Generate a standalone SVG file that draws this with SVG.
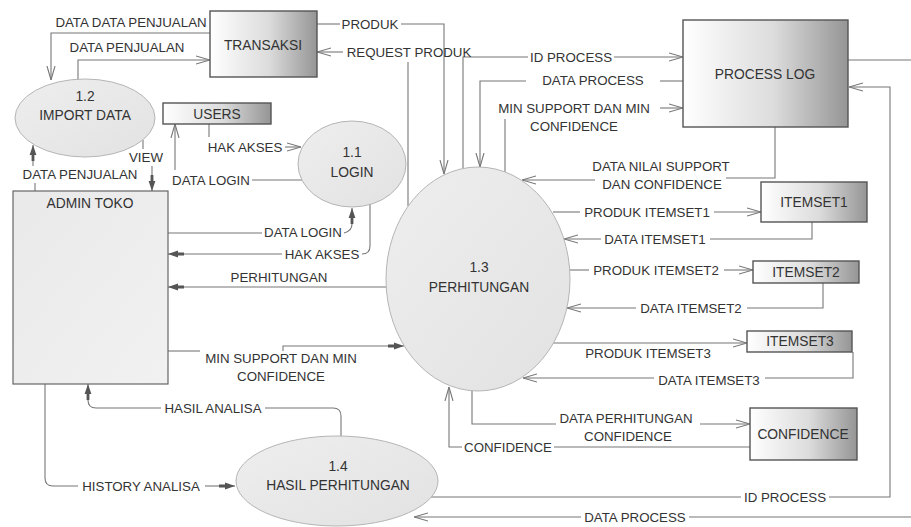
<svg xmlns="http://www.w3.org/2000/svg" width="911" height="527" viewBox="0 0 911 527">
  <defs>
    <linearGradient id="store" x1="0" y1="0" x2="1" y2="0">
      <stop offset="0" stop-color="#ffffff"/>
      <stop offset="0.55" stop-color="#dcdcdc"/>
      <stop offset="1" stop-color="#959595"/>
    </linearGradient>
    <linearGradient id="proc" x1="0" y1="0" x2="1" y2="1">
      <stop offset="0" stop-color="#eeeeee"/>
      <stop offset="1" stop-color="#e2e2e2"/>
    </linearGradient>
    <linearGradient id="ext" x1="0" y1="0" x2="1" y2="1">
      <stop offset="0" stop-color="#e9e9e9"/>
      <stop offset="1" stop-color="#f1f1f1"/>
    </linearGradient>
    <marker id="open" viewBox="0 0 14 10" refX="14" refY="5" markerWidth="14" markerHeight="10" markerUnits="userSpaceOnUse" orient="auto">
      <path d="M0,1 L14,5 L0,9" fill="none" stroke="#777" stroke-width="1.1"/>
    </marker>
    <marker id="solid" viewBox="0 0 16 8" refX="16" refY="4" markerWidth="16" markerHeight="8" markerUnits="userSpaceOnUse" orient="auto">
      <path d="M0,2.6 H6 V0.6 L16,4 L6,7.4 V5.4 H0 Z" fill="#555"/>
    </marker>
  </defs>
  <style>
    text { font-family: "Liberation Sans", Arial, sans-serif; font-size: 13.3px; fill: #333; text-anchor: middle; dominant-baseline: central; }
    .box text { font-size: 13.8px; }
    .store rect { fill: url(#store); stroke: #555; stroke-width: 1.4; }
    .process ellipse { fill: url(#proc); stroke: #b5b5b5; stroke-width: 1; }
    .entity rect { fill: url(#ext); stroke: #666; stroke-width: 1.2; }
    .flow path { fill: none; stroke: #777; stroke-width: 1.1; }
    .flow .o { marker-end: url(#open); }
    .flow .s { marker-end: url(#solid); }
  </style>

  <!-- connectors -->
  <g id="connectors" class="flow">
    <!-- DATA DATA PENJUALAN -->
    <path class="o" d="M210,33 H51 V80"/>
    <!-- DATA PENJUALAN (to transaksi) -->
    <path class="o" d="M78,80 V60 H210"/>
    <!-- VIEW -->
    <path d="M143,140 V149"/>
    <path class="s" d="M152,166 V191"/>
    <!-- DATA PENJUALAN (admin to import) -->
    <path d="M35,191 V183"/>
    <path class="s" d="M33,166 V145"/>
    <!-- HAK AKSES from users -->
    <path d="M209,124 V137"/>
    <path class="o" d="M285,147 H301"/>
    <!-- DATA LOGIN to users -->
    <path d="M302,180 H252"/>
    <path class="o" d="M175,170 V124"/>
    <!-- DATA LOGIN admin to login -->
    <path d="M168,233 H262"/>
    <path class="s" d="M344,233 Q352,231 352,224 V208"/>
    <!-- HAK AKSES login to admin -->
    <path d="M370,204 V246 Q370,254 362,254"/>
    <path class="s" d="M282,254 H168"/>
    <!-- PERHITUNGAN -->
    <path class="s" d="M387,287 H168"/>
    <!-- MIN SUPPORT DAN MIN CONFIDENCE (admin) -->
    <path d="M168,351 H200"/>
    <path class="s" d="M283,351 V346 H404"/>
    <!-- HASIL ANALISA -->
    <path d="M341,436 V416 Q341,408 333,408 H265"/>
    <path class="s" d="M161,408 H96 Q88,408 88,400 V384"/>
    <!-- HISTORY ANALISA -->
    <path d="M45,384 V478 Q45,486 53,486 H78"/>
    <path class="s" d="M205,486 H235"/>
    <!-- PRODUK -->
    <path d="M317,24 H340"/>
    <path class="o" d="M401,24 H444 V174"/>
    <!-- REQUEST PRODUK -->
    <path d="M408,206 V62"/>
    <path class="o" d="M343,52 H317"/>
    <!-- ID PROCESS (top) -->
    <path d="M463,168 V57 H528"/>
    <path class="o" d="M614,57 H683"/>
    <!-- DATA PROCESS (top) -->
    <path d="M683,81 H660"/>
    <path class="o" d="M526,81 H480 V167"/>
    <!-- MIN SUPPORT DAN MIN CONFIDENCE (to log) -->
    <path d="M505,172 V119"/>
    <path class="o" d="M660,108 H683"/>
    <!-- DATA NILAI SUPPORT DAN CONFIDENCE -->
    <path d="M775,127 V178 H726"/>
    <path class="o" d="M595,180 H522"/>
    <!-- itemset 1 -->
    <path d="M553,212 H580"/>
    <path class="o" d="M714,212 H761"/>
    <path d="M812,222 V239 H710"/>
    <path class="o" d="M601,239 H564"/>
    <!-- itemset 2 -->
    <path d="M570,270 H589"/>
    <path class="o" d="M724,270 H753"/>
    <path d="M823,283 V308 H747"/>
    <path class="o" d="M636,308 H567"/>
    <!-- itemset 3 -->
    <path class="o" d="M553,343 H747"/>
    <path d="M853,352 V378 H765"/>
    <path class="o" d="M654,378 H523"/>
    <!-- confidence -->
    <path d="M472,390 V424 H556"/>
    <path class="o" d="M700,424 H750"/>
    <path d="M750,447 H554"/>
    <path class="o" d="M462,447 H449 V387"/>
    <!-- ID PROCESS (bottom) -->
    <path d="M431,497 H741"/>
    <path class="o" d="M829,497 H890 V87 H849"/>
    <!-- DATA PROCESS (bottom) -->
    <path d="M848,60 H918 V517 H689"/>
    <path class="o" d="M581,517 H414"/>

    <!-- labels -->
    <text x="131" y="22">DATA DATA PENJUALAN</text>
    <text x="127" y="47">DATA PENJUALAN</text>
    <text x="146" y="157">VIEW</text>
    <text x="80" y="174">DATA PENJUALAN</text>
    <text x="245" y="147">HAK AKSES</text>
    <text x="211" y="180">DATA LOGIN</text>
    <text x="303" y="232">DATA LOGIN</text>
    <text x="322" y="254">HAK AKSES</text>
    <text x="279" y="277">PERHITUNGAN</text>
    <text x="281" y="358">MIN SUPPORT DAN MIN</text>
    <text x="281" y="376">CONFIDENCE</text>
    <text x="213" y="408">HASIL ANALISA</text>
    <text x="141" y="486">HISTORY ANALISA</text>
    <text x="370" y="24">PRODUK</text>
    <text x="409" y="52">REQUEST PRODUK</text>
    <text x="571" y="57">ID PROCESS</text>
    <text x="593" y="80">DATA PROCESS</text>
    <text x="574" y="108">MIN SUPPORT DAN MIN</text>
    <text x="574" y="126">CONFIDENCE</text>
    <text x="661" y="166">DATA NILAI SUPPORT</text>
    <text x="662" y="184">DAN CONFIDENCE</text>
    <text x="647" y="212">PRODUK ITEMSET1</text>
    <text x="655" y="239">DATA ITEMSET1</text>
    <text x="656" y="270">PRODUK ITEMSET2</text>
    <text x="691" y="308">DATA ITEMSET2</text>
    <text x="648" y="353">PRODUK ITEMSET3</text>
    <text x="709" y="380">DATA ITEMSET3</text>
    <text x="626" y="418">DATA PERHITUNGAN</text>
    <text x="628" y="436">CONFIDENCE</text>
    <text x="508" y="447">CONFIDENCE</text>
    <text x="785" y="497">ID PROCESS</text>
    <text x="635" y="517">DATA PROCESS</text>
  </g>

  <!-- external entity -->
  <g id="admin-toko" class="entity box">
    <rect x="13" y="191" width="155" height="193"/>
    <text x="90" y="203">ADMIN TOKO</text>
  </g>

  <!-- processes -->
  <g id="p-1-1" class="process box">
    <ellipse cx="352" cy="164" rx="54" ry="43"/>
    <text x="352" y="152">1.1</text>
    <text x="352" y="172">LOGIN</text>
  </g>
  <g id="p-1-2" class="process box">
    <ellipse cx="85" cy="118" rx="70" ry="39"/>
    <text x="85" y="96">1.2</text>
    <text x="85" y="115">IMPORT DATA</text>
  </g>
  <g id="p-1-3" class="process box">
    <ellipse cx="478" cy="279" rx="92" ry="112"/>
    <text x="479" y="267">1.3</text>
    <text x="479" y="287">PERHITUNGAN</text>
  </g>
  <g id="p-1-4" class="process box">
    <ellipse cx="337" cy="481" rx="101" ry="45"/>
    <text x="338" y="466">1.4</text>
    <text x="338" y="485">HASIL PERHITUNGAN</text>
  </g>

  <!-- data stores -->
  <g id="transaksi" class="store box">
    <rect x="210" y="11" width="107" height="66"/>
    <text x="263" y="45">TRANSAKSI</text>
  </g>
  <g id="users" class="store box">
    <rect x="163" y="103" width="108" height="21"/>
    <text x="217" y="114">USERS</text>
  </g>
  <g id="process-log" class="store box">
    <rect x="683" y="20" width="165" height="107"/>
    <text x="765" y="74">PROCESS LOG</text>
  </g>
  <g id="itemset1" class="store box">
    <rect x="761" y="182" width="106" height="40"/>
    <text x="814" y="202">ITEMSET1</text>
  </g>
  <g id="itemset2" class="store box">
    <rect x="753" y="261" width="106" height="22"/>
    <text x="806" y="272">ITEMSET2</text>
  </g>
  <g id="itemset3" class="store box">
    <rect x="747" y="331" width="105" height="21"/>
    <text x="800" y="341">ITEMSET3</text>
  </g>
  <g id="confidence" class="store box">
    <rect x="750" y="408" width="107" height="52"/>
    <text x="803" y="434">CONFIDENCE</text>
  </g>
</svg>
